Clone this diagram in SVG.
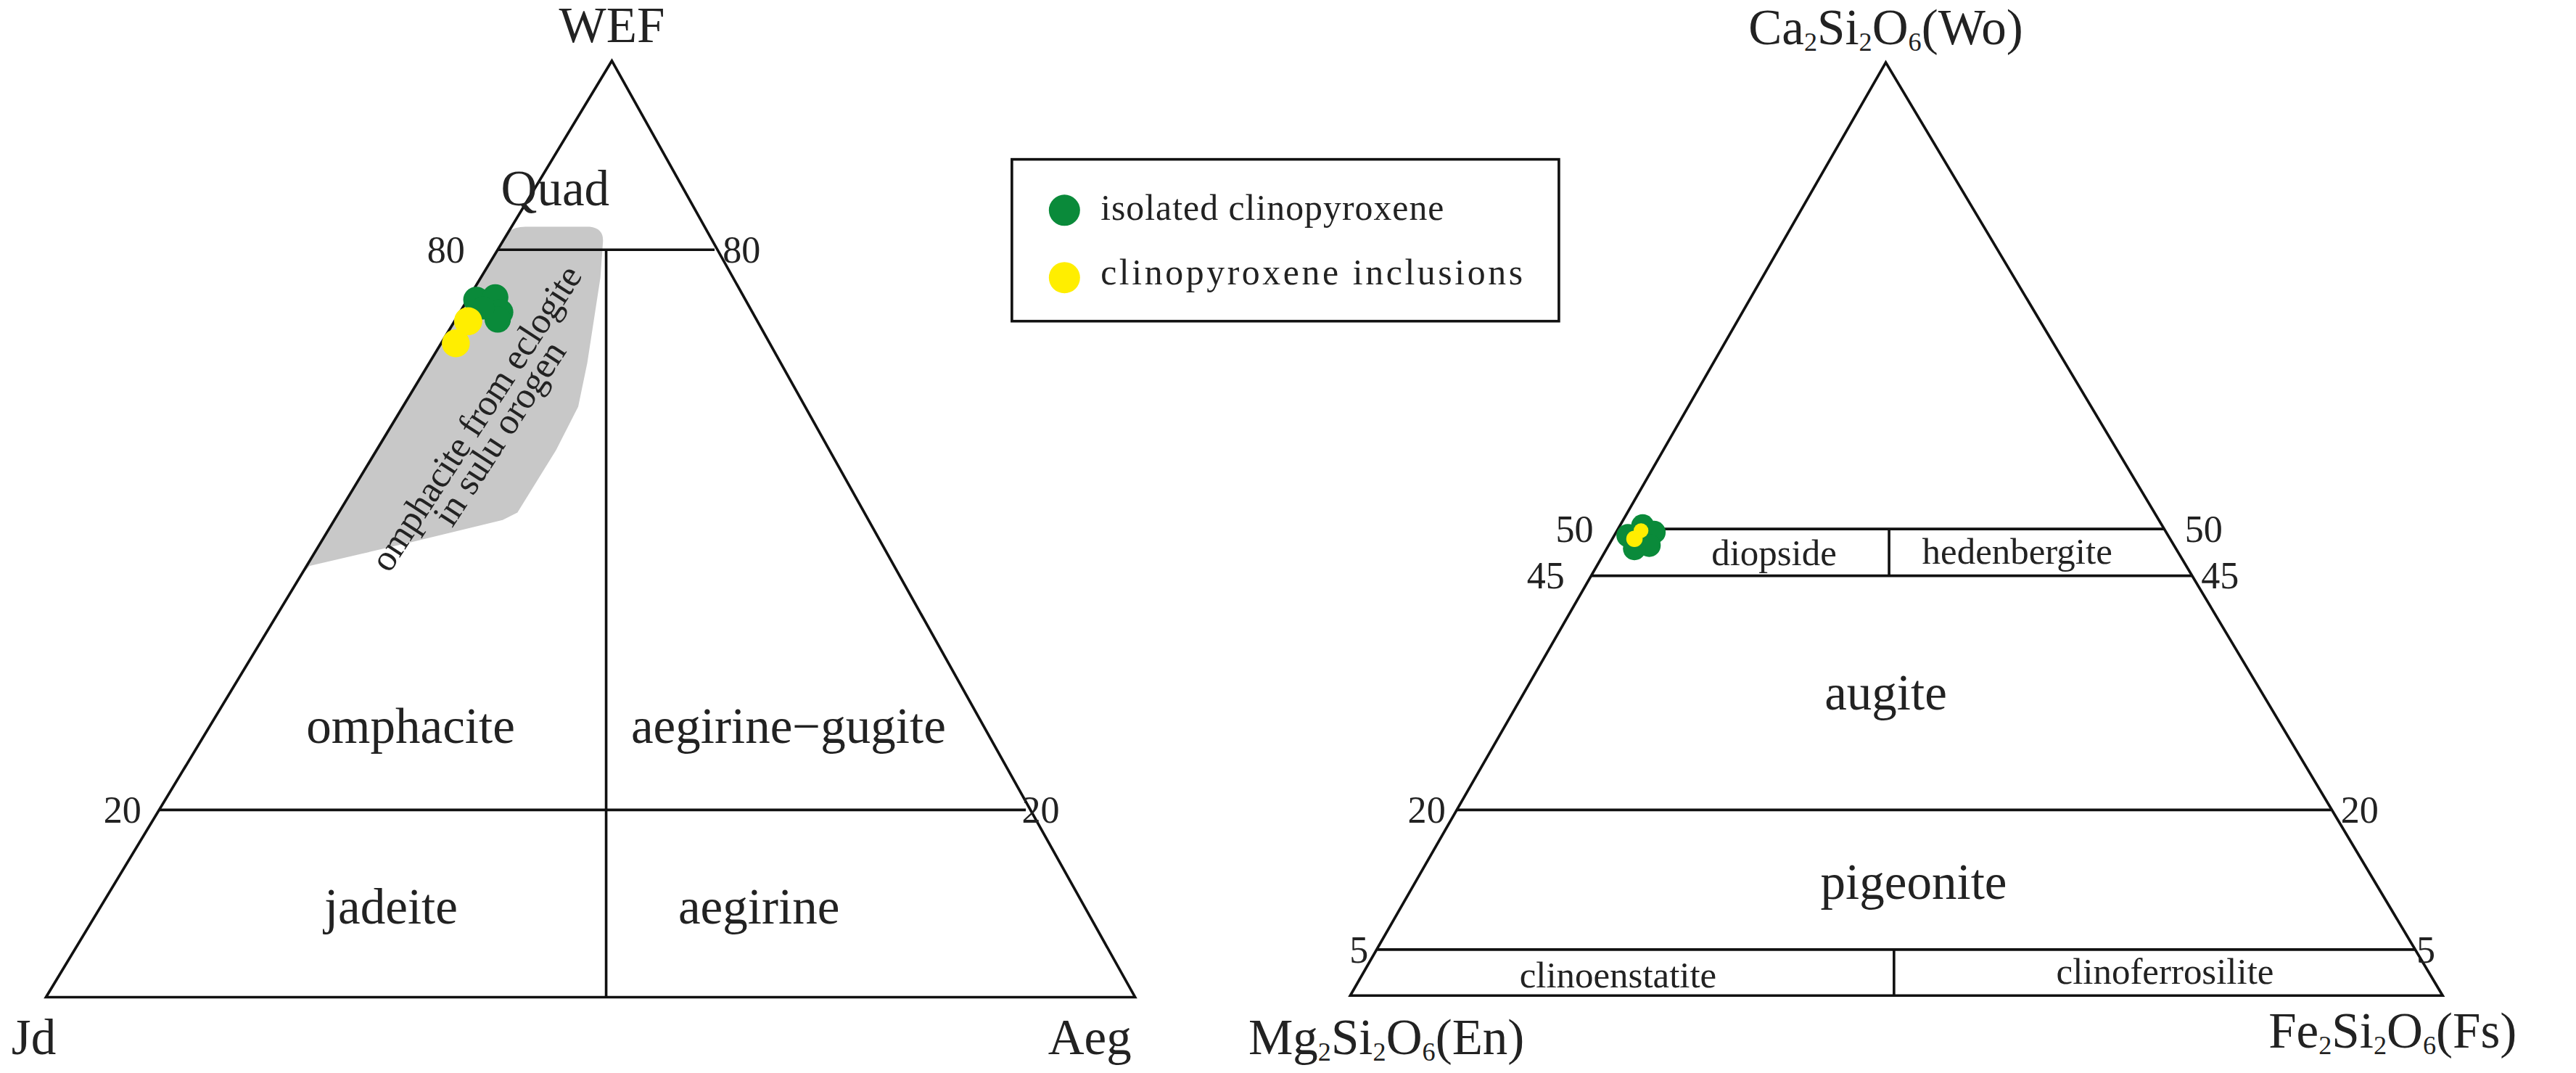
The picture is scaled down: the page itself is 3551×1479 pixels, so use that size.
<svg xmlns="http://www.w3.org/2000/svg" width="3551" height="1479" viewBox="0 0 3551 1479">
<style>
.ln{stroke:#111;stroke-width:3.2;fill:none}
text{font-family:"Liberation Serif","Times New Roman",serif;fill:#222}
.lb{font-size:61px;text-anchor:middle}
.sm{font-size:45px;text-anchor:middle}
.nm{font-size:46px}
.g{fill:#0a8a3a}
.y{fill:#ffee00}
</style>
<rect width="3551" height="1479" fill="#fff"/>
<g transform="scale(1.1322)">
<g id="left-diagram">
<path d="M620,282 Q626,276 640,276 L718,276 Q736,278 734,296 L731,338 L715,442 L704,495 L677,548 L630,624 L612,633 L501,660 L377,689 L362,706 Z" fill="#c8c8c8"/>
<g id="left-connectors">
<polygon class="ln" points="745,74 56,1214 1382,1214"/>
<line class="ln" x1="606" y1="304" x2="870" y2="304"/>
<line class="ln" x1="194" y1="986" x2="1249" y2="986"/>
<line class="ln" x1="738" y1="304" x2="738" y2="1214"/>
</g>
<text class="lb" x="745" y="51" font-size="64">WEF</text>
<text x="14" y="1283" font-size="61">Jd</text>
<text x="1276" y="1283" font-size="61">Aeg</text>
<text class="nm" x="566" y="320" text-anchor="end">80</text>
<text class="nm" x="880" y="320">80</text>
<text class="nm" x="172" y="1002" text-anchor="end">20</text>
<text class="nm" x="1244" y="1002">20</text>
<text class="lb" x="676" y="250">Quad</text>
<text class="lb" x="500" y="904">omphacite</text>
<text class="lb" x="960" y="904">aegirine−gugite</text>
<text class="lb" x="476" y="1124">jadeite</text>
<text class="lb" x="924" y="1124">aegirine</text>
<g transform="translate(592,517) rotate(-57)">
<text class="sm" x="0" y="0" textLength="433" lengthAdjust="spacing">omphacite from eclogite</text>
<text class="sm" x="0" y="34">in sulu orogen</text>
</g>
<g id="left-points">
<circle class="y" cx="570" cy="391" r="17"/><circle class="y" cx="555" cy="418" r="17"/>
<circle class="g" cx="580" cy="365" r="16"/><circle class="g" cx="603" cy="362" r="16"/><circle class="g" cx="609" cy="380" r="16"/><circle class="g" cx="606" cy="389" r="16"/><circle class="g" cx="588" cy="375" r="14"/>
<circle class="y" cx="570" cy="391" r="17"/>
</g>
</g>
<g id="legend">
<rect class="ln" x="1232" y="194" width="666" height="197"/>
<circle class="g" cx="1296" cy="256" r="19"/>
<circle class="y" cx="1296" cy="338" r="19"/>
<text x="1340" y="268" font-size="44" textLength="418" lengthAdjust="spacing">isolated clinopyroxene</text>
<text x="1340" y="346" font-size="44" textLength="514" lengthAdjust="spacing">clinopyroxene inclusions</text>
</g>
<g id="right-diagram">
<g id="right-connectors">
<polygon class="ln" points="2296,76 1644,1212 2974,1212"/>
<line class="ln" x1="1970" y1="644" x2="2635" y2="644"/>
<line class="ln" x1="1937" y1="701" x2="2669" y2="701"/>
<line class="ln" x1="1774" y1="986" x2="2838" y2="986"/>
<line class="ln" x1="1677" y1="1156" x2="2940" y2="1156"/>
<line class="ln" x1="2300" y1="644" x2="2300" y2="701"/>
<line class="ln" x1="2306" y1="1156" x2="2306" y2="1212"/>
</g>
<text class="lb" x="2296" y="54">Ca<tspan font-size="32" dy="8">2</tspan><tspan dy="-8">Si</tspan><tspan font-size="32" dy="8">2</tspan><tspan dy="-8">O</tspan><tspan font-size="32" dy="8">6</tspan><tspan dy="-8">(Wo)</tspan></text>
<text x="1520" y="1283" font-size="61">Mg<tspan font-size="32" dy="8">2</tspan><tspan dy="-8">Si</tspan><tspan font-size="32" dy="8">2</tspan><tspan dy="-8">O</tspan><tspan font-size="32" dy="8">6</tspan><tspan dy="-8">(En)</tspan></text>
<text x="2762" y="1275" font-size="61">Fe<tspan font-size="32" dy="8">2</tspan><tspan dy="-8">Si</tspan><tspan font-size="32" dy="8">2</tspan><tspan dy="-8">O</tspan><tspan font-size="32" dy="8">6</tspan><tspan dy="-8">(Fs)</tspan></text>
<text class="nm" x="1940" y="660" text-anchor="end">50</text>
<text class="nm" x="1905" y="716" text-anchor="end">45</text>
<text class="nm" x="2660" y="660">50</text>
<text class="nm" x="2680" y="716">45</text>
<text class="nm" x="1760" y="1002" text-anchor="end">20</text>
<text class="nm" x="2850" y="1002">20</text>
<text class="nm" x="1666" y="1172" text-anchor="end">5</text>
<text class="nm" x="2942" y="1172">5</text>
<text class="sm" x="2160" y="688">diopside</text>
<text class="sm" x="2456" y="686">hedenbergite</text>
<text class="lb" x="2296" y="864">augite</text>
<text class="lb" x="2330" y="1094">pigeonite</text>
<text class="sm" x="1970" y="1202">clinoenstatite</text>
<text class="sm" x="2636" y="1198">clinoferrosilite</text>
<g id="right-points">
<circle class="g" cx="1982" cy="652" r="14"/><circle class="g" cx="2000" cy="640" r="14"/><circle class="g" cx="2014" cy="648" r="14"/><circle class="g" cx="2008" cy="664" r="14"/><circle class="g" cx="1990" cy="668" r="14"/>
<circle class="y" cx="1990" cy="656" r="10"/><circle class="y" cx="1998" cy="646" r="9"/>
</g>
</g>
</g>
</svg>
